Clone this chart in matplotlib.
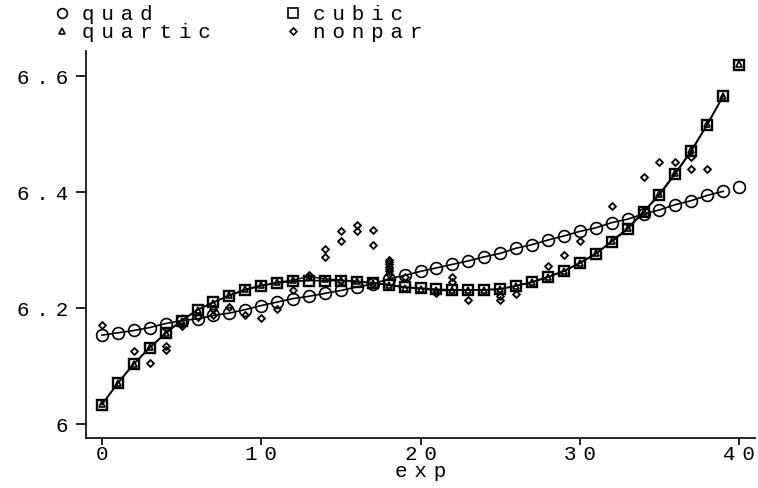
import matplotlib
matplotlib.use("Agg")
import matplotlib.pyplot as plt
from matplotlib.lines import Line2D

plt.rcParams['font.family'] = ['Liberation Mono', 'DejaVu Sans']
plt.rcParams['font.size'] = 15

# exp values 0..40
exp = list(range(41))

quad = [6.153, 6.157, 6.161, 6.166, 6.173, 6.178, 6.181, 6.187, 6.191, 6.197,
        6.204, 6.210, 6.216, 6.220, 6.225, 6.230, 6.236, 6.241, 6.250, 6.256,
        6.263, 6.269, 6.275, 6.281, 6.288, 6.294, 6.303, 6.309, 6.317, 6.324,
        6.332, 6.338, 6.347, 6.353, 6.362, 6.369, 6.378, 6.385, 6.394, 6.401,
        6.409]

cubic = [6.033, 6.070, 6.103, 6.131, 6.156, 6.178, 6.197, 6.210, 6.221, 6.231,
         6.238, 6.243, 6.246, 6.247, 6.247, 6.247, 6.245, 6.243, 6.240, 6.236,
         6.234, 6.232, 6.231, 6.231, 6.231, 6.232, 6.238, 6.244, 6.253, 6.263,
         6.277, 6.293, 6.314, 6.336, 6.365, 6.395, 6.431, 6.470, 6.516, 6.565,
         6.619]

quartic = [6.034, 6.071, 6.104, 6.132, 6.157, 6.178, 6.196, 6.209, 6.222, 6.232,
           6.239, 6.244, 6.248, 6.254, 6.250, 6.248, 6.246, 6.243, 6.239, 6.235,
           6.233, 6.230, 6.230, 6.231, 6.231, 6.233, 6.238, 6.245, 6.254, 6.264,
           6.278, 6.294, 6.315, 6.338, 6.366, 6.397, 6.433, 6.472, 6.517, 6.566,
           6.621]

# nonparametric estimates (several per exp value)
np_exp = [0, 2, 3, 4, 4, 5, 6, 7, 7, 8, 9, 10, 11, 12, 13, 14, 14, 15, 15,
          16, 16, 17, 17, 18, 18, 18, 18, 18, 18, 18, 19, 21, 22, 22, 23,
          25, 25, 26, 28, 29, 30, 32, 34, 35, 36, 37, 37, 38]
nonpar = [6.171, 6.125, 6.105, 6.134, 6.128, 6.169, 6.184, 6.198, 6.187, 6.201,
          6.187, 6.182, 6.198, 6.230, 6.256, 6.302, 6.287, 6.332, 6.316,
          6.343, 6.333, 6.334, 6.309, 6.259, 6.263, 6.267, 6.271, 6.275, 6.279,
          6.282, 6.253, 6.226, 6.253, 6.245, 6.214, 6.221, 6.214, 6.224, 6.272,
          6.292, 6.315, 6.375, 6.426, 6.451, 6.452, 6.460, 6.440, 6.440]

xticks = [0, 10, 20, 30, 40]
yticks = [6.0, 6.2, 6.4, 6.6]
yticklabels = ['6', '6.2', '6.4', '6.6']


def spaced(s):
    # the original device font is drawn letter-spaced (three-per-em space)
    return '\u2004'.join(s)


fig = plt.figure(figsize=(7.58, 4.89), dpi=100)
ax = fig.add_axes([0.1135, 0.1016, 0.8826, 0.792])

# fitted curves: lines through 0..39, last point unconnected
ax.plot(exp[:-1], quad[:-1], color='black', lw=1.2)
ax.plot(exp[:-1], cubic[:-1], color='black', lw=1.2)
ax.plot(exp[:-1], quartic[:-1], color='black', lw=1.0)

ax.plot(exp, quad, ls='none', marker='o', ms=8.5, mfc='none', mec='black', mew=1.2)
ax.plot(exp, cubic, ls='none', marker='s', ms=7.5, mfc='none', mec='black', mew=1.7)
ax.plot(exp, quartic, ls='none', marker='^', ms=4.5, mfc='none', mec='black', mew=1.2)
ax.plot(np_exp, nonpar, ls='none', marker='D', ms=3.5, mfc='none', mec='black', mew=1.3)

ax.set_xlim(-1, 41)
ax.set_ylim(5.975, 6.643)
ax.set_xticks(xticks)
ax.set_xticklabels([spaced(str(t)) for t in xticks])
ax.set_yticks(yticks)
ax.set_yticklabels([spaced(s) for s in yticklabels])
ax.set_xlabel(spaced('exp'), labelpad=-1)

for s in ['top', 'right']:
    ax.spines[s].set_visible(False)
for s in ['left', 'bottom']:
    ax.spines[s].set_linewidth(1.2)
ax.tick_params(axis='y', direction='out', length=7, width=1.2, pad=6)
ax.tick_params(axis='x', direction='out', length=5, width=1.2, pad=-1)

# legend drawn in figure coordinates
W, H = 758.0, 489.0
entries = [('o', 'quad', 62, 14, 7), ('s', 'cubic', 293, 14, 6.5),
           ('^', 'quartic', 62, 32, 5), ('D', 'nonpar', 293, 32, 3.5)]
for mk, lab, px, py, ms in entries:
    fig.add_artist(Line2D([px / W], [1 - py / H], transform=fig.transFigure,
                          marker=mk, ms=ms, mfc='none', mec='black', mew=1.2, ls='none'))
    fig.text((px + 20) / W, 1 - py / H, spaced(lab), ha='left', va='center')

fig.savefig('out.png', dpi=100)
